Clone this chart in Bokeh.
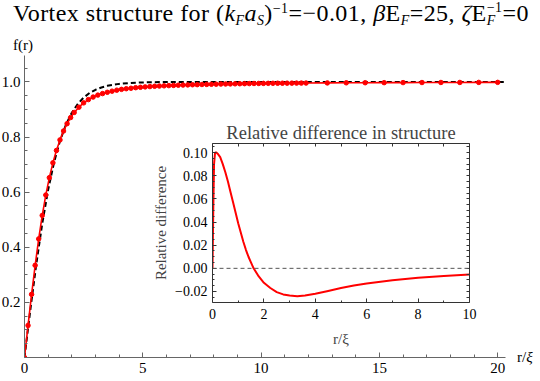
from bokeh.plotting import figure
from bokeh.models import Span, LinearAxis, FixedTicker, Range1d, Div, GridBox
from bokeh.embed import file_html
from bokeh.resources import INLINE

FONT = "Liberation Serif"

# ---------------- data ----------------
black_r = [0, 0.25, 0.5, 0.75, 1.0, 1.25, 1.5, 1.75, 2.0, 2.25, 2.5, 2.75, 3.0, 3.25,
           3.5, 4.0, 4.5, 5.0, 5.5, 6.0, 7.0, 8.0, 20.33]
black_f = [0, 0.175, 0.3395, 0.4856, 0.6089, 0.7084, 0.7859, 0.8447, 0.8884, 0.9201,
           0.9434, 0.9599, 0.9716, 0.9800, 0.9859, 0.9930, 0.9966, 0.9983, 0.9992,
           0.9996, 0.9999, 1.0, 1.0]

red_r = [0, 0.15, 0.3, 0.45, 0.6, 0.75, 0.9, 1.05, 1.2, 1.35, 1.5, 1.65, 1.8, 1.95,
         2.1, 2.3, 2.5, 2.7, 2.9, 3.1, 3.3, 3.5, 3.7, 3.9, 4.1, 4.3, 4.5, 4.7, 4.9,
         5.1, 5.3, 5.5, 5.7, 5.9, 6.1, 6.3, 6.5, 6.7, 6.9, 7.1, 7.3, 7.5, 7.7, 7.9,
         8.1, 8.3, 8.5, 8.7, 8.9, 9.1, 9.3, 9.5, 9.7, 9.9, 10.1, 10.3, 10.5, 10.7,
         10.9, 11.1, 11.3, 11.5, 11.7, 11.9,
         12.8, 13.6, 14.4, 15.2, 16.0, 16.8, 17.6, 18.4, 19.2, 20.0]
red_f = [0, 0.1163, 0.2291, 0.3345, 0.4305, 0.5156, 0.5896, 0.6527, 0.7065, 0.7514,
         0.7897, 0.8220, 0.8487, 0.8707,
         0.8893, 0.9084, 0.9241, 0.9359, 0.9452, 0.9523, 0.9578, 0.9625, 0.9666,
         0.9702, 0.9731, 0.9755, 0.9771, 0.9792, 0.9806, 0.9821, 0.9832, 0.9843,
         0.9851, 0.9859, 0.9867, 0.9875, 0.9882, 0.9887, 0.9893, 0.9899, 0.9903,
         0.9908, 0.9912, 0.9916, 0.9919, 0.9923, 0.9926, 0.9929, 0.9932, 0.9935,
         0.9938, 0.9941, 0.9944, 0.9946, 0.9948, 0.9950, 0.9951, 0.9953, 0.9954,
         0.9956, 0.9957, 0.9958, 0.9959, 0.9960,
         0.9965, 0.9969, 0.9972, 0.9975, 0.9977, 0.9979, 0.9981, 0.9982, 0.9984,
         0.9985]

inset_r = [0, 0.03, 0.06, 0.1, 0.15, 0.2, 0.3, 0.4, 0.5, 0.6, 0.7, 0.8, 0.9, 1.0,
           1.1, 1.2, 1.3, 1.4, 1.5, 1.6, 1.8, 2.0, 2.25, 2.5, 2.75, 3.0, 3.3, 3.6,
           4.0, 4.5, 5.0, 5.5, 6.0, 7.0, 8.0, 9.0, 10.0]
inset_d = [0.0, 0.05, 0.09, 0.1, 0.1, 0.099, 0.096, 0.090, 0.083, 0.075, 0.066,
           0.057, 0.048, 0.039, 0.031, 0.023, 0.016, 0.010, 0.005, 0.000, -0.007,
           -0.0125, -0.017, -0.0205, -0.0225, -0.0235, -0.024, -0.0235, -0.022,
           -0.0195, -0.017, -0.0148, -0.013, -0.0103, -0.0082, -0.0066, -0.0053]

main_x_ticks = [0, 5, 10, 15, 20]
main_y_ticks = [0.2, 0.4, 0.6, 0.8, 1.0]
inset_x_ticks = [0, 2, 4, 6, 8, 10]
inset_y_ticks = [-0.02, 0.0, 0.02, 0.04, 0.06, 0.08, 0.10]

# ---------------- main figure ----------------
ML, MR, MT, MB = 80, 28, 50, 70
MW, MH = ML + 488 + MR, MT + 307 + MB
p = figure(width=MW, height=MH, sizing_mode="fixed",
           x_range=Range1d(0, 20.33), y_range=Range1d(0, 1.096),
           output_backend="svg", toolbar_location=None,
           min_border_left=ML, min_border_right=MR, min_border_top=MT,
           min_border_bottom=MB)
p.outline_line_color = None
p.grid.visible = False
p.background_fill_color = "white"
p.border_fill_color = "white"

p.xaxis.ticker = FixedTicker(ticks=main_x_ticks,
                             minor_ticks=[i for i in range(0, 21) if i % 5])
p.yaxis.ticker = FixedTicker(ticks=main_y_ticks,
                             minor_ticks=[round(0.05 * i, 2) for i in range(1, 22) if i % 4])
p.yaxis.major_label_overrides = {0.2: "0.2", 0.4: "0.4", 0.6: "0.6", 0.8: "0.8", 1.0: "1.0"}
for ax in (p.xaxis, p.yaxis):
    ax.axis_line_color = "#666666"
    ax.major_tick_line_color = "#666666"
    ax.minor_tick_line_color = "#666666"
    ax.major_tick_in = 5
    ax.major_tick_out = 0
    ax.minor_tick_in = 3
    ax.minor_tick_out = 0
    ax.major_label_text_font = FONT
    ax.major_label_text_font_size = "15px"
    ax.major_label_text_color = "black"
p.yaxis.major_label_standoff = 4
p.xaxis.major_label_standoff = 5

p.line(black_r, black_f, line_color="black", line_width=2, line_dash="5 3")
p.line(red_r, red_f, line_color="red", line_width=1.6)
p.scatter(red_r, red_f, size=4.5, fill_color="red", line_color="red")

# ---------------- inset ----------------
IL, IR, IT, IB = 80, 35, 55, 70
IW, IH = IL + 257 + IR, IT + 159 + IB
ins = figure(width=IW, height=IH, sizing_mode="fixed",
             x_range=Range1d(0, 10), y_range=Range1d(-0.0295, 0.1078),
             output_backend="svg", toolbar_location=None,
             min_border_left=IL, min_border_right=IR, min_border_top=IT,
             min_border_bottom=IB)
ins.grid.visible = False
ins.outline_line_color = None
ins.background_fill_color = "white"
ins.border_fill_alpha = 0
ins.title.text = "Relative difference in structure"
ins.title.align = "center"
ins.title.text_font = FONT
ins.title.text_font_size = "18.5px"
ins.title.text_font_style = "normal"
ins.title.standoff = 2

top_ax = LinearAxis()
right_ax = LinearAxis()
ins.add_layout(top_ax, "above")
ins.add_layout(right_ax, "right")
bot_ax = ins.below[0]
left_ax = ins.left[0]

x_minor = [1, 3, 5, 7, 9]
y_minor = [round(-0.03 + 0.005 * i, 3) for i in range(0, 28) if i % 4 != 2]
bot_ax.ticker = FixedTicker(ticks=inset_x_ticks, minor_ticks=x_minor)
left_ax.ticker = FixedTicker(ticks=inset_y_ticks, minor_ticks=y_minor)
top_ax.ticker = FixedTicker(ticks=[], minor_ticks=inset_x_ticks + x_minor)
right_ax.ticker = FixedTicker(ticks=[], minor_ticks=inset_y_ticks + y_minor)
left_ax.major_label_overrides = {-0.02: "\u22120.02", 0.0: "0.00", 0.02: "0.02",
                                 0.04: "0.04", 0.06: "0.06", 0.08: "0.08", 0.10: "0.10"}
for ax in (bot_ax, left_ax, top_ax, right_ax):
    ax.axis_line_color = "#333333"
    ax.major_tick_line_color = "#333333"
    ax.minor_tick_line_color = "#333333"
    ax.major_tick_in = 4
    ax.major_tick_out = 0
    ax.minor_tick_in = 2
    ax.minor_tick_out = 0
    ax.major_label_text_font = FONT
    ax.major_label_text_font_size = "14px"
    ax.major_label_text_color = "black"
    ax.axis_label_text_font = FONT
    ax.axis_label_text_font_size = "15px"
    ax.axis_label_text_font_style = "normal"
top_ax.minor_tick_in = 3
right_ax.minor_tick_in = 3
bot_ax.axis_label = "r/\u03be"
left_ax.axis_label = "Relative difference"
bot_ax.major_label_standoff = 6
bot_ax.axis_label_standoff = 9
left_ax.major_label_standoff = 5
left_ax.axis_label_standoff = 3

ins.add_layout(Span(location=0, dimension="width", line_color="#555555",
                    line_width=1, line_dash="4 3"))
ins.line(inset_r, inset_d, line_color="red", line_width=2)

# ---------------- texts with sub/superscripts (HTML) ----------------
SUB = '<span style="font-size:58%;position:relative;top:0.28em;">'
SUP = '<span style="font-size:58%;position:relative;top:-0.55em;">'
STACK = ('<span style="display:inline-block;font-size:58%;line-height:13px;'
         'vertical-align:-4px;text-align:left;">\u22121<br><i>F</i></span>')


def styled(html, size, lh, ls="0px"):
    return ('<span style="font-family:\'Liberation Serif\',serif;font-size:%s;'
            'line-height:%s;letter-spacing:%s;white-space:nowrap;color:#000;">%s</span>'
            % (size, lh, ls, html))


title_html = (
    'Vortex structure for (<i>k</i>' + SUB + '<i>F</i></span><i>a</i>' + SUB +
    '<i>S</i></span>)' + SUP + '\u22121</span>=\u22120.01, <i>\u03b2</i>E' + SUB +
    '<i>F</i></span>=25, <i>\u03b6</i>E' + STACK + '=0'
)
base_style = {"font-family": "'Liberation Serif', serif", "color": "#000000",
              "white-space": "nowrap"}

title_div = Div(text=styled(title_html, "24px", "27px", "0.45px"), width=527, height=30,
                margin=(0, 0, 0, 13), styles=base_style)
f_div = Div(text=styled("f(r)", "15px", "18px"), width=30, height=20,
            margin=(36, 0, 0, 13), styles=base_style)
r_div = Div(text=styled("r/<i>\u03be</i>", "15px", "18px"), width=22, height=20,
            margin=(348, 0, 0, 517), styles=base_style)

# main frame: left edge at page x=24, top at y=50; inset frame at (212, 143)
p.margin = (0, 0, 0, 24 - ML)
p.styles = {"min-width": "%dpx" % MW, "max-width": "none", "flex-shrink": "0"}
ins.margin = (143 - IT, 0, 0, 212 - IL)
ins.styles = {"min-width": "%dpx" % IW, "max-width": "none", "flex-shrink": "0"}

layout = GridBox(children=[(p, 0, 0), (ins, 0, 0), (title_div, 0, 0),
                           (f_div, 0, 0), (r_div, 0, 0)],
                 width=540, height=381,
                 styles={"overflow": "hidden"})

open("out.html", "w").write(file_html(layout, INLINE))
